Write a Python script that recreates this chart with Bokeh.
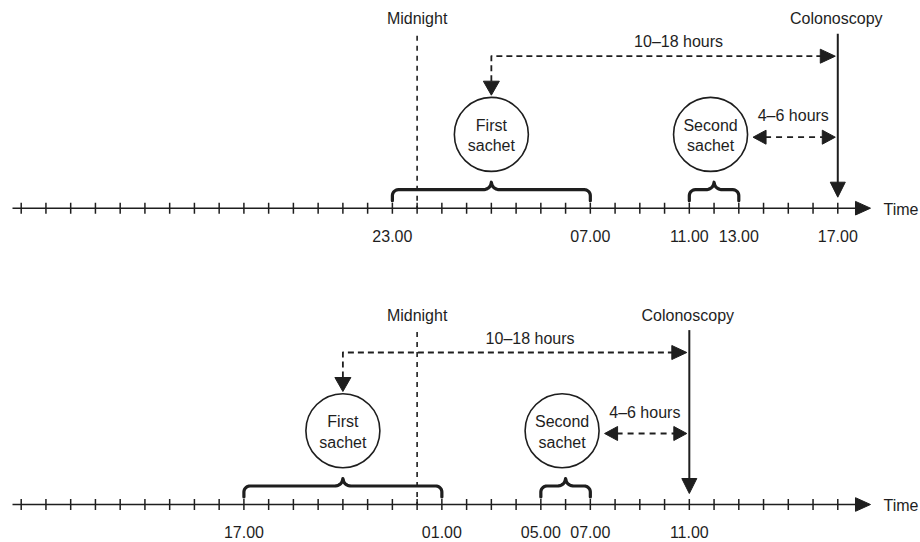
import numpy as np
from bokeh.plotting import figure
from bokeh.models import Range1d
from bokeh.core.properties import value
from bokeh.embed import file_html
from bokeh.resources import INLINE

# ---------------- data (hours counted from midnight of the day before) ----------------
HOURS = list(range(8, 42))          # hourly tick marks
MIDNIGHT = 24

FIRST_WINDOW_TOP = [23, 31]         # 23.00 - 07.00
SECOND_WINDOW_TOP = [35, 37]        # 11.00 - 13.00
COLONOSCOPY_TOP = 41                # 17.00
LABELED_TOP = [23, 31, 35, 37, 41]

FIRST_WINDOW_BOTTOM = [17, 25]      # 17.00 - 01.00
SECOND_WINDOW_BOTTOM = [29, 31]     # 05.00 - 07.00
COLONOSCOPY_BOTTOM = 35             # 11.00
LABELED_BOTTOM = [17, 25, 29, 31, 35]

LONG_GAP_TEXT = "10–18 hours"
SHORT_GAP_TEXT = "4–6 hours"

# ---------------- layout ----------------
W, H = 920, 542
PXH = 24.745                         # pixels per hour
X0 = 8 - 20.7 / PXH
X1 = X0 + W / PXH
AXIS_Y = [207.7, 504.0]             # pixel y of the two time axes
INK = "#1e1e1e"
FONT = value("Liberation Sans")
FS = "16px"


def dx(px):
    return px / PXH


p = figure(width=W, height=H, x_range=Range1d(X0, X1), y_range=Range1d(H, 0),
           output_backend="svg", toolbar_location=None, min_border=0,
           x_axis_location=None, y_axis_location=None)
p.outline_line_color = None
p.xgrid.visible = False
p.ygrid.visible = False
p.background_fill_color = "white"


def label(x, y, s, align="center"):
    p.text(x=[x], y=[y], text=[s], text_font=FONT, text_font_size=FS,
           text_color=INK, text_align=align, text_baseline="middle")


def brace(h0, h1, ay):
    L = (h1 - h0) * PXH
    Lm = L / 2
    yb, yh, yp, r, c = ay - 7.5, ay - 18.5, ay - 26.0, 6.0, 9.0
    pts = [(0.0, yb), (0.0, yh + r)]
    for th in np.linspace(0, np.pi / 2, 8):
        pts.append((r - r * np.cos(th), yh + r - r * np.sin(th)))
    pts.append((Lm - c, yh))
    p0, p1, p2 = np.array([Lm - c, yh]), np.array([Lm - 1.0, yh]), np.array([Lm, yp])
    for t in np.linspace(0, 1, 10)[1:]:
        q = (1 - t) ** 2 * p0 + 2 * (1 - t) * t * p1 + t ** 2 * p2
        pts.append((q[0], q[1]))
    right = [(L - x, y) for (x, y) in reversed(pts[:-1])]
    allp = pts + right
    xs = [h0 + dx(x) for x, _ in allp]
    ys = [y for _, y in allp]
    p.line(xs, ys, line_color=INK, line_width=3.2, line_join="round", line_cap="round")


tri_xs, tri_ys = [], []


def tri(tx, ty, d, L, hw):
    if d == "r":
        xs, ys = [tx, tx - dx(L), tx - dx(L)], [ty, ty - hw, ty + hw]
    elif d == "l":
        xs, ys = [tx, tx + dx(L), tx + dx(L)], [ty, ty - hw, ty + hw]
    else:
        xs, ys = [tx, tx - dx(hw), tx + dx(hw)], [ty, ty - L, ty - L]
    tri_xs.append(xs)
    tri_ys.append(ys)


panels = [
    (AXIS_Y[0], FIRST_WINDOW_TOP, SECOND_WINDOW_TOP, COLONOSCOPY_TOP, LABELED_TOP),
    (AXIS_Y[1], FIRST_WINDOW_BOTTOM, SECOND_WINDOW_BOTTOM, COLONOSCOPY_BOTTOM, LABELED_BOTTOM),
]

R = 37  # circle radius (px)

for ay, fw, sw, col, labeled in panels:
    # midnight dashed line + label
    p.line([MIDNIGHT, MIDNIGHT], [ay - 172.5, ay], line_color=INK, line_width=1.6, line_dash="5 5")
    label(MIDNIGHT, ay - 189.4, "Midnight")

    # time axis
    a_start = HOURS[0] - dx(8.7)
    a_tip = HOURS[-1] + dx(32.7)
    p.line([a_start, a_tip - dx(10)], [ay, ay], line_color=INK, line_width=1.6)
    tri(a_tip, ay, "r", 15, 6.8)
    p.segment(x0=HOURS, y0=[ay - 5.5] * len(HOURS), x1=HOURS, y1=[ay + 5.5] * len(HOURS),
              line_color=INK, line_width=1.5)
    p.text(x=labeled, y=[ay + 27.5] * len(labeled), text=["%02d.00" % (h % 24) for h in labeled],
           text_font=FONT, text_font_size=FS, text_color=INK, text_align="center",
           text_baseline="middle")
    label(a_tip + dx(13), ay + 1, "Time", align="left")

    # braces
    brace(fw[0], fw[1], ay)
    brace(sw[0], sw[1], ay)

    # sachet circles
    c1 = (fw[0] + fw[1]) / 2
    c2 = (sw[0] + sw[1]) / 2 - dx(3.5)
    cy = ay - 73.8
    p.circle(x=[c1, c2], y=[cy, cy], radius=R, radius_units="screen",
             line_color=INK, line_width=1.6, fill_color="white")
    label(c1, cy - 9, "First")
    label(c1, cy + 11.5, "sachet")
    label(c2, cy - 9, "Second")
    label(c2, cy + 11.5, "sachet")

    # colonoscopy
    p.line([col, col], [ay - 174.4, ay - 25], line_color=INK, line_width=2)
    tri(col, ay - 11, "d", 15, 7.5)
    label(col - dx(1.5), ay - 189.4, "Colonoscopy")

    # 10-18 hours dashed elbow arrow
    yl = ay - 152
    p.line([c1, c1, col - dx(15)], [ay - 127, yl, yl], line_color=INK, line_width=1.8,
           line_dash="6 4", line_join="round")
    tri(c1, ay - 113, "d", 14, 8)
    tri(col - dx(2.5), yl, "r", 15, 7)
    label((c1 + col) / 2 + dx(14), ay - 166.5, LONG_GAP_TEXT)

    # 4-6 hours dashed double arrow
    yd = ay - 71
    left_tip = c2 + dx(R + 5.5)
    right_tip = col - dx(2.5)
    p.line([left_tip + dx(12), right_tip - dx(12)], [yd, yd], line_color=INK, line_width=1.8,
           line_dash="6 5")
    tri(left_tip, yd, "l", 13, 7)
    tri(right_tip, yd, "r", 13, 7)
    label(col - dx(44.5), ay - 92.5, SHORT_GAP_TEXT)

p.patches(tri_xs, tri_ys, fill_color=INK, line_color=INK, line_width=1)

open("out.html", "w").write(file_html(p, INLINE))
